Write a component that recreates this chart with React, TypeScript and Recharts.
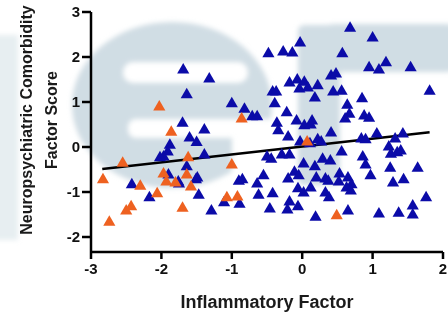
import React from 'react';
import { ScatterChart, Scatter, XAxis, YAxis, ZAxis, ReferenceLine } from 'recharts';

// blue group
const blueX = [
  -0.03, -0.48, -0.27, -0.14, -1.32, -0.18, -0.07, 0.03, -0.04, 0.08,
  0.22, -0.42, -0.37, 0.18, -0.39, -1.0, -0.82, -0.71, -0.64, -0.22,
  -0.08, -0.36, 0.14, 0.03, 0.12, -0.34, -0.2, -1.69, -1.64, -1.7,
  -1.39, 0.68, 1.0, 0.57, 0.95, 1.09, 1.19, 1.54, 0.41, 0.48,
  1.81, 0.44, 0.56, 0.85, 0.64, 0.67, 0.61, 0.88, 0.95, 0.41,
  1.06, 1.43, 0.84, 0.9, 1.32, 1.23, 1.26, 1.35, 1.4, 0.56,
  0.27, 0.29, 0.4, 0.86, 0.9, 1.25, 1.64, 0.97, 0.53, 0.65,
  0.33, 0.37, 0.52, 1.29, 1.44, 0.7, 0.63, 0.69, 0.33, 0.38,
  1.76, 1.57, 0.65, 1.57, 1.09, 1.37, -0.03, 0.22, -0.5, -0.44,
  -0.29, -0.18, 0.02, 0.18, -0.11, -0.05, -0.55, -0.2, 0.2, -0.9,
  -0.85, -0.64, 0.12, -0.06, 0.02, -0.62, -0.42, -1.11, -0.89, -0.18,
  -0.06, -0.21, -0.46, -1.29, 0.19, -1.6, -1.5, -1.88, -1.91, -1.97,
  -2.02, -1.39, -1.64, -1.9, -1.51, -1.76, -2.42, -2.17, -1.47, 0.11,
  -1.75, -1.49,
];
const blueY = [
  2.31, 2.07, 2.11, 2.09, 1.51, 1.42, 1.49, 1.44, 1.29, 1.31,
  1.36, 1.22, 1.22, 1.09, 0.96, 0.96, 0.84, 0.67, 0.67, 0.76,
  0.58, 0.53, 0.58, 0.47, 0.49, 0.36, 0.22, 1.71, 1.16, 0.53,
  0.38, 2.64, 2.42, 2.07, 1.76, 1.71, 1.87, 1.76, 1.58, 1.62,
  1.24, 1.22, 1.24, 1.07, 0.93, 0.73, 0.62, 0.69, 0.64, 0.31,
  0.29, 0.29, 0.18, 0.16, 0.18, 0.0, -0.16, -0.13, -0.09, -0.11,
  0.11, -0.27, -0.31, -0.22, -0.4, -0.47, -0.47, -0.64, -0.6, -0.69,
  -0.71, -0.76, -0.78, -0.8, -0.73, -0.84, -0.91, -0.98, -1.02, -1.13,
  -1.13, -1.31, -1.42, -1.51, -1.49, -1.47, 0.11, 0.16, -0.22, -0.27,
  -0.18, -0.18, -0.38, -0.44, -0.56, -0.64, -0.64, -0.71, -0.69, -0.76,
  -0.73, -0.82, -0.91, -0.93, -1.02, -1.07, -1.04, -1.24, -1.27, -1.22,
  -1.33, -1.4, -1.38, -1.42, -1.56, 0.2, 0.1, 0.04, -0.11, -0.22,
  -0.24, -0.18, -0.44, -0.62, -0.73, -0.78, -0.84, -1.13, -1.07, 0.07,
  -0.82, -0.69,
];

// orange group
const orangeX = [
  -2.03, -1.86, -0.86, -2.55, -2.83, -1.62, -1.97, -1.64, -1.93, -1.8,
  -1.58, -2.3, -2.06, -2.43, -2.5, -1.7, -2.74, -1.07, -0.92, -1.0,
  0.07, 0.49,
];
const orangeY = [
  0.89, 0.33, 0.62, -0.36, -0.73, -0.24, -0.6, -0.62, -0.78, -0.8,
  -0.89, -0.87, -1.04, -1.33, -1.42, -1.36, -1.67, -1.13, -1.11, -0.4,
  0.11, -1.53,
];

// regression line ends
const fitX = [-2.84, 1.81];
const fitY = [-0.49, 0.33];

const xTicks = [-3, -2, -1, 0, 1, 2];
const yTicks = [-2, -1, 0, 1, 2, 3];

const blueData = blueX.map((x, i) => ({ x, y: blueY[i] }));
const orangeData = orangeX.map((x, i) => ({ x, y: orangeY[i] }));

const font = "'Liberation Sans', Arial, sans-serif";

// faint "er" watermark behind the plot
const Watermark = () => (
  <svg width={448} height={312} style={{ position: 'absolute', left: 0, top: 0 }}>
    <defs>
      <filter id="wmBlur" x="-20%" y="-20%" width="140%" height="140%">
        <feGaussianBlur stdDeviation="2.5" />
      </filter>
      <mask id="eMask">
        <rect x={0} y={0} width={448} height={312} fill="white" />
        <rect x={123} y={62} width={125} height={21} rx={10} fill="black" />
        <rect x={128} y={119} width={170} height={19} rx={8} fill="black" />
        <rect x={232} y={119} width={70} height={90} fill="black" />
      </mask>
    </defs>
    <g filter="url(#wmBlur)" fill="#d0dde4">
      <ellipse cx={172} cy={105} rx={100} ry={83} mask="url(#eMask)" />
      <rect x={-10} y={35} width={28} height={205} opacity={0.5} />
      <rect x={298} y={25} width={42} height={160} rx={6} />
      <rect x={320} y={24} width={140} height={48} rx={14} />
    </g>
  </svg>
);

const YLabel = (props: any) => {
  const vb = props && props.viewBox;
  const cy = vb && typeof vb.y === 'number' ? vb.y + vb.height / 2 - 12 : 120;
  const style = { fontFamily: font, fontSize: 16, fontWeight: 'bold' as const, fill: '#1a1a1a' };
  return (
    <g>
      <text transform={`translate(32, ${cy}) rotate(-90)`} textAnchor="middle" style={style}>
        Neuropsychiatric Comorbidity
      </text>
      <text transform={`translate(57, ${cy}) rotate(-90)`} textAnchor="middle" style={style}>
        Factor Score
      </text>
    </g>
  );
};

const tickStyle = { fill: '#111', fontSize: 15, fontWeight: 'bold', fontFamily: font };

export default function App() {
  return (
    <div style={{ position: 'absolute', left: 0, top: 0, width: 448, height: 312, background: '#fff' }}>
      <Watermark />
      <div style={{ position: 'absolute', left: 0, top: 0 }}>
        <ScatterChart width={448} height={312} margin={{ top: 12, right: 5, bottom: 0, left: 0 }}>
          <XAxis
            type="number"
            dataKey="x"
            domain={[-3, 2]}
            ticks={xTicks}
            interval={0}
            allowDataOverflow
            height={60}
            axisLine={{ stroke: '#000', strokeWidth: 2.5 }}
            tickLine={{ stroke: '#000', strokeWidth: 2.5 }}
            tickSize={7}
            tickMargin={4}
            tick={tickStyle}
            label={{
              value: 'Inflammatory Factor',
              position: 'insideBottom',
              offset: 4,
              fill: '#1a1a1a',
              fontSize: 18,
              fontWeight: 'bold',
              fontFamily: font,
            }}
          />
          <YAxis
            type="number"
            dataKey="y"
            domain={[-2.3333, 3]}
            ticks={yTicks}
            interval={0}
            allowDataOverflow
            width={91}
            axisLine={{ stroke: '#000', strokeWidth: 2.5 }}
            tickLine={{ stroke: '#000', strokeWidth: 2.5 }}
            tickSize={9}
            tickMargin={2}
            tick={tickStyle}
            label={YLabel}
          />
          <ZAxis range={[45, 45]} />
          <Scatter data={blueData} fill="#0b0ba8" shape="triangle" isAnimationActive={false} />
          <Scatter data={orangeData} fill="#ee6120" shape="triangle" isAnimationActive={false} />
          <ReferenceLine
            segment={[{ x: fitX[0], y: fitY[0] }, { x: fitX[1], y: fitY[1] }]}
            stroke="#000"
            strokeWidth={2.5}
          />
        </ScatterChart>
      </div>
    </div>
  );
}
